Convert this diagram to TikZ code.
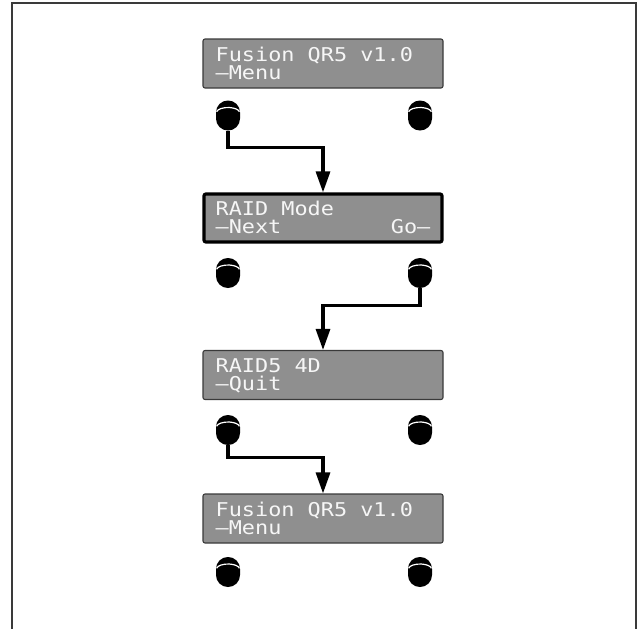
\documentclass[tikz,border=0pt]{standalone}
\usepackage{fontspec}
\newfontfamily\lcdfont[FakeStretch=1.15]{DejaVu Sans Mono}
\usetikzlibrary{arrows.meta}
\definecolor{lcdgray}{HTML}{8F8F8F}
\definecolor{lcdtext}{HTML}{F6F6F6}
\definecolor{framegray}{HTML}{3A3A3A}
\begin{document}
\begin{tikzpicture}[x=1pt,y=1pt,
  lcd/.style={draw=framegray, line width=1.1pt, fill=lcdgray, rounded corners=2pt,
    minimum width=240pt, minimum height=49pt, inner sep=0pt},
  lcdsel/.style={lcd, draw=black, line width=3.2pt, minimum height=48pt, minimum width=238pt},
  txt/.style={inner sep=0pt, font=\lcdfont\fontsize{19}{19}\selectfont, text=lcdtext},
  btn/.style={fill=black, rounded corners=11.9pt, minimum width=24pt, minimum height=30pt, inner sep=0pt,
    path picture={\draw[white, line width=1.2pt] (path picture bounding box.center) ++(0,3pt) ++(172:11.5pt and 5pt)
      arc[start angle=172, end angle=8, x radius=11.5pt, y radius=5pt];}},
  conn/.style={line width=3.1pt, -{Triangle[width=14pt,length=21pt]}},
  frame/.style={draw=framegray, line width=1.5pt}
]
\useasboundingbox (0,0) rectangle (641,-629);
\draw[frame] (12,-629) -- (12,-3) -- (636,-3) -- (636,-629);

% displays
\node[lcd] (d1) at (323,-63.5) {};
\node[lcdsel] (d2) at (323,-218) {};
\node[lcd] (d3) at (323,-375) {};
\node[lcd] (d4) at (323,-518.5) {};

% texts
\node[txt, anchor=base west] (t1a) at ([xshift=13pt,yshift=-23pt]d1.north west) {Fusion QR5 v1.0};
\node[txt, anchor=base west] (t1b) at ([xshift=13pt,yshift=-41pt]d1.north west) {–Menu};
\node[txt, anchor=base west] (t2a) at ([xshift=13pt,yshift=-23pt]d2.north west) {RAID Mode};
\node[txt, anchor=base west] (t2b) at ([xshift=13pt,yshift=-41pt]d2.north west) {–Next};
\node[txt, anchor=base east] (t2c) at ([xshift=-13pt,yshift=-41pt]d2.north east) {Go–};
\node[txt, anchor=base west] (t3a) at ([xshift=13pt,yshift=-23pt]d3.north west) {RAID5 4D};
\node[txt, anchor=base west] (t3b) at ([xshift=13pt,yshift=-41pt]d3.north west) {–Quit};
\node[txt, anchor=base west] (t4a) at ([xshift=13pt,yshift=-23pt]d4.north west) {Fusion QR5 v1.0};
\node[txt, anchor=base west] (t4b) at ([xshift=13pt,yshift=-41pt]d4.north west) {–Menu};

% buttons
\node[btn] (b1l) at (228,-115.5) {};
\node[btn] (b1r) at (420,-115.5) {};
\node[btn] (b2l) at (228,-273) {};
\node[btn] (b2r) at (420,-273) {};
\node[btn] (b3l) at (228,-430) {};
\node[btn] (b3r) at (420,-430) {};
\node[btn] (b4l) at (228,-572) {};
\node[btn] (b4r) at (420,-572) {};

% connectors
\draw[conn] (b1l.south) -- ++(0,-17) -| (d2.north);
\draw[conn] (b2r.south) -- ++(0,-17) -| (d3.north);
\draw[conn] (b3l.south) -- ++(0,-12) -| (d4.north);
\end{tikzpicture}
\end{document}
